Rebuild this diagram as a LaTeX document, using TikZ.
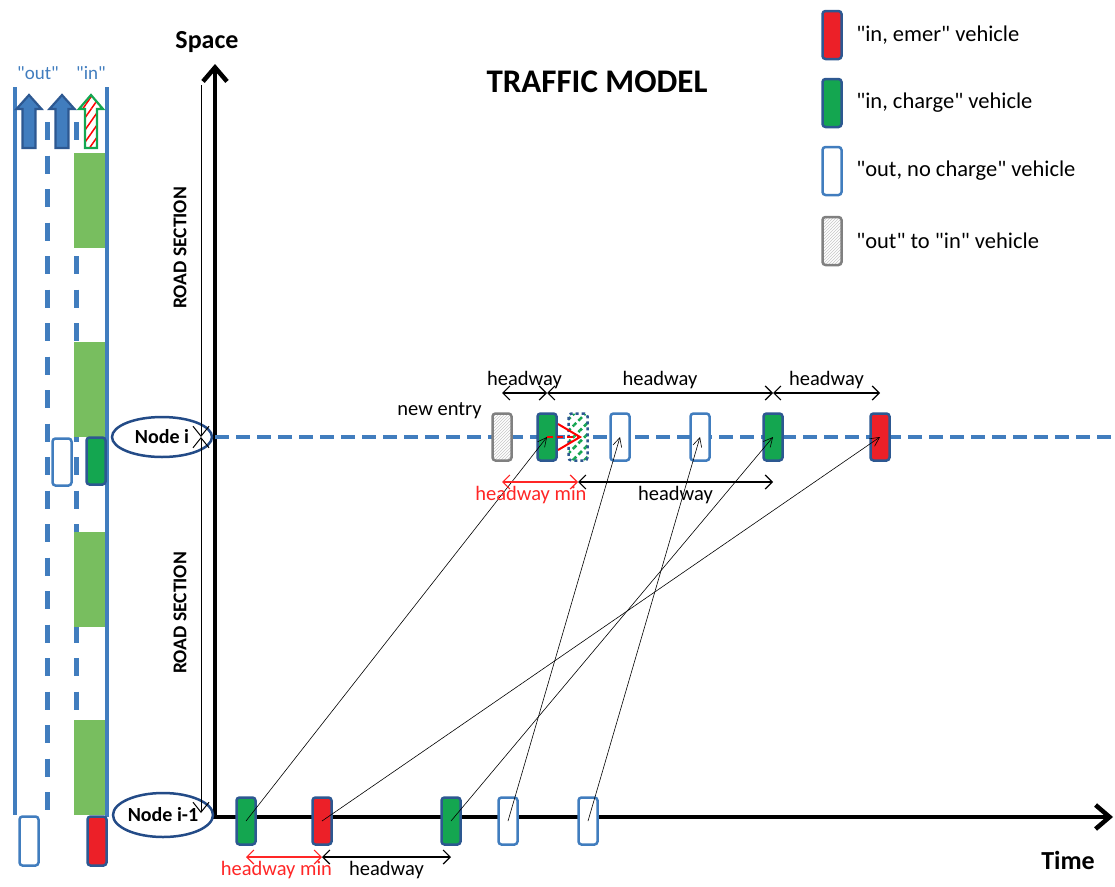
\documentclass[tikz,border=0pt]{standalone}
\usepackage{fontspec}
\setmainfont{Carlito}[Ligatures=TeXOff]
\usepackage{tikz}
\usetikzlibrary{positioning,arrows.meta,shapes.geometric,patterns,patterns.meta}

\definecolor{roadblue}{RGB}{65,125,190}
\definecolor{carrim}{RGB}{45,88,145}
\definecolor{emerred}{RGB}{236,32,40}
\definecolor{chargegreen}{RGB}{20,166,80}
\definecolor{lanegreen}{RGB}{120,190,95}
\definecolor{nodeblue}{RGB}{35,75,135}
\definecolor{rimgray}{RGB}{128,128,128}

\tikzset{
    car/.style = {
        draw,
        shape=rectangle,
        rounded corners=3pt,
        inner sep=0pt,
        minimum width=19pt,
        minimum height=47pt,
        line width=2.5pt
    },
    emer/.style = {car, draw=carrim, fill=emerred},
    charge/.style = {car, draw=carrim, fill=chargegreen},
    nocharge/.style = {car, draw=roadblue, fill=white},
    swapcar/.style = {
        car,
        draw=rimgray,
        preaction={fill=white},
        pattern=north east lines,
        pattern color=gray!45
    },
    ghost/.style = {
        car,
        draw=carrim,
        dashed,
        preaction={fill=white},
        pattern={Lines[angle=45,distance=8pt,line width=2.6pt]},
        pattern color=chargegreen
    },
    junction/.style = {
        draw=nodeblue,
        shape=ellipse,
        line width=2.5pt,
        fill=white,
        inner sep=0pt,
        minimum width=100pt,
        minimum height=40pt,
        font=\bfseries\fontsize{20}{24}\selectfont
    },
    txt/.style = {font=\fontsize{20.5}{24}\selectfont},
    legtxt/.style = {font=\fontsize{22.5}{26}\selectfont},
    axis/.style = {line width=4.5pt, {Straight Barb[length=14pt,width=24pt]}-{Straight Barb[length=14pt,width=24pt]}},
    gap/.style = {line width=1.2pt, {Straight Barb[length=7pt,width=14pt]}-{Straight Barb[length=7pt,width=14pt]}},
    mingap/.style = {gap, draw=red!85!white},
    traj/.style = {line width=0.6pt, -{Straight Barb[length=9pt,width=9pt]}},
    secarrow/.style = {line width=1pt},
    lanemark/.style = {draw=roadblue, line width=5pt, dash pattern=on 18pt off 15.5pt},
    roadedge/.style = {draw=roadblue, line width=4pt},
    nodeline/.style = {draw=roadblue, line width=4pt, dash pattern=on 14pt off 7pt},
    lanearrow/.style = {line width=2.2pt, draw=carrim, fill=roadblue},
}

\begin{document}
\begin{tikzpicture}[x=1pt,y=-1pt]
    \useasboundingbox (0,0) rectangle (1115,886);

    % road seen from above
    \path[roadedge] (15,87) -- (15,815);
    \path[roadedge] (107,87) -- (107,817);
    \foreach \x in {47,76}
        \path[lanemark] (\x,122) -- (\x,815);
    \foreach \y in {153,342,532,720}
        \path[fill=lanegreen] (74,\y) rectangle (105,\y+95);
    \foreach \x in {29,62}
        \path[draw, lanearrow] (\x-6.5,148) -- (\x-6.5,109) -- (\x-12.5,109) -- (\x,95) -- (\x+12.5,109) -- (\x+6.5,109) -- (\x+6.5,148) -- cycle;
    \path[draw, line width=2.2pt, draw=chargegreen, preaction={fill=white}, pattern={Lines[angle=55,distance=7pt,line width=1.5pt]}, pattern color=red]
        (85,148) -- (85,109) -- (79,109) -- (91,95) -- (103,109) -- (97,109) -- (97,148) -- cycle;
    \node[txt, text=roadblue, font=\fontsize{19}{22}\selectfont] (outlbl) at (38,73) {"out"};
    \node[txt, text=roadblue, font=\fontsize{19}{22}\selectfont] (inlbl) at (91,73) {"in"};
    \node[nocharge] (lw1) at (62,462) {};
    \node[charge] (lc1) at (96,461) {};
    \node[nocharge, minimum height=49pt] (lw2) at (29,841) {};
    \node[emer, minimum height=49pt] (le1) at (97,841) {};

    % space-time plane
    \coordinate (origin) at (215,817);
    \coordinate (spacetop) at (215,64);
    \coordinate (timeend) at (1113,817);
    \coordinate (istart) at (215,437);
    \coordinate (iend) at (1115,437);
    \path[draw, axis] (spacetop) -- (origin) -- (timeend);
    \path[nodeline] (istart) -- (iend);
    \node[font=\bfseries\fontsize{26}{30}\selectfont] (spacelbl) at (207,42) {Space};
    \node[font=\bfseries\fontsize{26}{30}\selectfont] (timelbl) at (1068,860) {Time};
    \node[font=\bfseries\fontsize{33}{38}\selectfont] (title) at (597,82) {TRAFFIC MODEL};

    \node[junction] (nodei) at (162,437) {Node i};
    \node[junction, minimum height=44pt] (nodeprev) at (163,815) {Node i-1};
    \coordinate (sectop) at (201,85);
    \coordinate (secmid) at (201,437);
    \coordinate (secbot) at (201,813);
    \path[draw, secarrow, -{Straight Barb[length=10pt,width=16pt]}] (sectop) -- (secmid);
    \path[draw, secarrow, {Straight Barb[length=10pt,width=16pt]}-{Straight Barb[length=10pt,width=16pt]}] (secmid) -- (secbot);
    \node[rotate=90, font=\bfseries\fontsize{19.5}{22}\selectfont] (sec1) at (180,248) {ROAD SECTION};
    \node[rotate=90, font=\bfseries\fontsize{19.5}{22}\selectfont] (sec2) at (180,613) {ROAD SECTION};

    % vehicles at node i
    \node[swapcar] (entry) at (502,437) {};
    \node[charge] (ic1) at (547,437) {};
    \node[ghost] (push) at (578,437) {};
    \node[nocharge] (iw1) at (620,437) {};
    \node[nocharge] (iw2) at (700,437) {};
    \node[charge] (ic2) at (773,437) {};
    \node[emer] (ie) at (880,437) {};
    \node[txt, anchor=east] (newentry) at ([xshift=-6pt,yshift=2pt]entry.north west) {new entry};

    % vehicles at node i-1
    \node[charge] (bc1) at (246,821) {};
    \node[emer] (be) at (322,821) {};
    \node[charge] (bc2) at (451,821) {};
    \node[nocharge] (bw1) at (508,821) {};
    \node[nocharge] (bw2) at (588,821) {};

    \path[draw, traj] (bc1.center) -- (ic1.center);
    \path[draw, traj] (be.center) -- (ie.center);
    \path[draw, traj] (bc2.center) -- (ic2.center);
    \path[draw, traj] (bw1.center) -- (iw1.center);
    \path[draw, traj] (bw2.center) -- (iw2.center);

    \path[draw, red, line width=2pt, dash pattern=on 6pt off 4pt, -{Straight Barb[length=22pt,width=26pt]}] (ic1.center) -- ([xshift=4pt]push.center);

    \path[draw, gap] ([yshift=44pt]entry.center) -- node[txt, above] {headway} ([yshift=44pt]ic1.center);
    \path[draw, gap] ([yshift=44pt]ic1.center) -- node[txt, above] {headway} ([yshift=44pt]ic2.center);
    \path[draw, gap] ([yshift=44pt]ic2.center) -- node[txt, above] {headway} ([yshift=44pt]ie.center);
    \path[draw, mingap] ([yshift=-45pt]entry.center) -- node[txt, below, text=red!85!white, pos=0.38] {headway min} ([yshift=-45pt]push.center);
    \path[draw, gap] ([yshift=-45pt]push.center) -- node[txt, below] {headway} ([yshift=-45pt]ic2.center);
    \path[draw, mingap] ([yshift=-36pt]bc1.center) -- node[txt, below, text=red!85!white, pos=0.4] {headway min} ([yshift=-36pt]be.center);
    \path[draw, gap] ([yshift=-36pt]be.center) -- node[txt, below] {headway} ([yshift=-36pt]bc2.center);

    % legend
    \node[emer, minimum height=48pt] (legemer) at (832,35) {};
    \node[charge, minimum height=48pt] (legcharge) at (832,103) {};
    \node[nocharge, minimum height=48pt] (legfree) at (832,171) {};
    \node[swapcar, minimum height=48pt] (legswap) at (832,241) {};
    \node[legtxt, right=10pt of legemer] (legemertxt) {"in, emer" vehicle};
    \node[legtxt, right=10pt of legcharge] (legchargetxt) {"in, charge" vehicle};
    \node[legtxt, right=10pt of legfree] (legfreetxt) {"out, no charge" vehicle};
    \node[legtxt, right=10pt of legswap] (legswaptxt) {"out" to "in" vehicle};
\end{tikzpicture}
\end{document}
